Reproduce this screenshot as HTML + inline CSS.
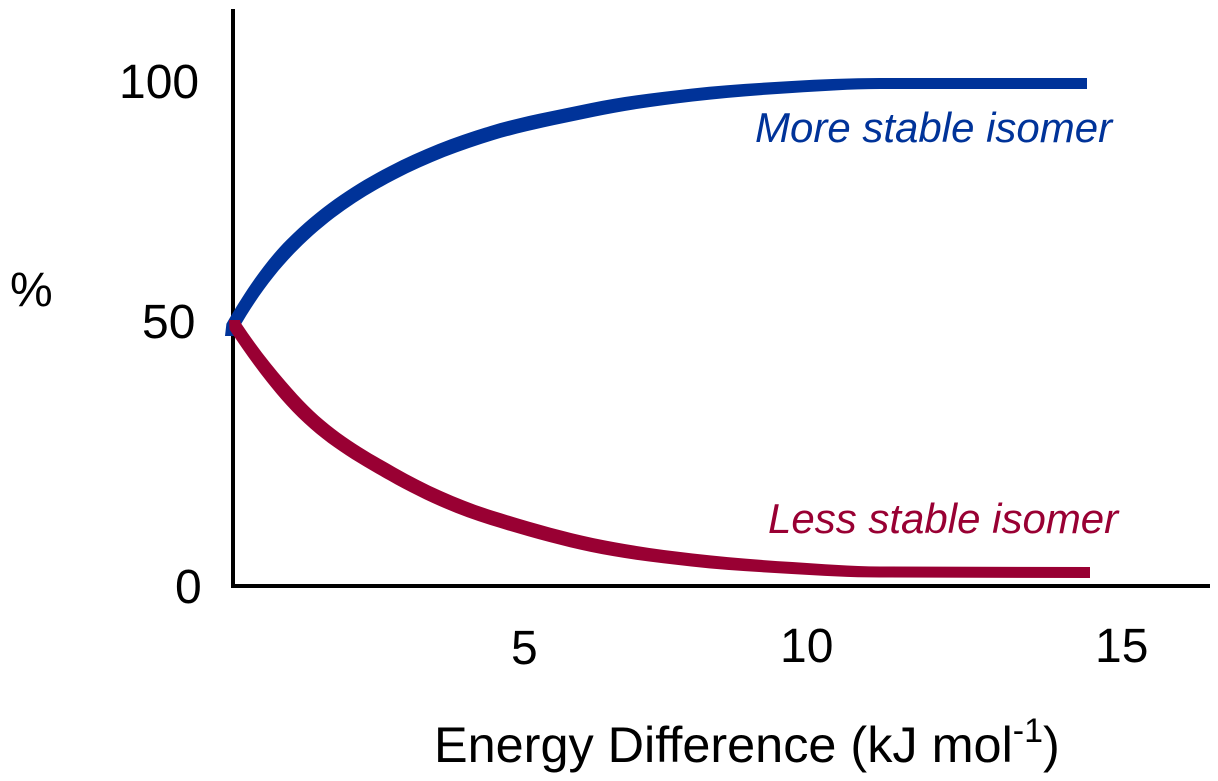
<!DOCTYPE html>
<html>
<head>
<meta charset="utf-8">
<style>
html,body{margin:0;padding:0;background:#fff;}
svg{display:block;}
text{font-family:"Liberation Sans",sans-serif;}
</style>
</head>
<body>
<svg width="1218" height="781" viewBox="0 0 1218 781" xmlns="http://www.w3.org/2000/svg">
<rect width="1218" height="781" fill="#fff"/>
<path d="M233 9V588M231 586H1210" fill="none" stroke="#000" stroke-width="4"/>
<path fill="#003399" d="M225 336L226.400 323.800C246.600 288.500 266.700 260.100 286.900 239.900C320.800 206 354.800 184.200 388.700 166.600C422.400 149.100 456.200 136.200 489.900 126.100C523.500 116 557 110.200 590.600 103.100C624.200 96 657.700 92.500 691.300 88.600C724.700 84.800 758.200 83 791.600 81C821.100 79.200 850.500 78 880 78L1087 78L1087 89L880 89C850.800 89 821.600 91.200 792.400 93C759.200 95 726 97.700 692.800 101.500C659.700 105.300 626.500 110 593.400 116.900C560.300 123.900 527.200 130 494.100 139.900C461.200 149.800 428.200 162.300 395.300 179.400C362.600 196.400 329.800 217.400 297.100 250.100C277.300 269.900 257.400 295.600 237.600 330.200L236 336Z"/>
<path fill="#990033" d="M229 320L240 320L240.400 322.400C259.400 350.900 278.400 374.200 297.400 395.100C330.100 431.100 362.900 449.100 395.600 467.700C428.400 486.400 461.300 500.900 494.100 511.100C527.200 521.400 560.300 531.100 593.400 538.100C626.500 545.100 659.700 549.700 692.800 553.500C726 557.300 759.200 560 792.400 562C821.600 563.800 850.800 566.500 880 566.500L1090 567L1090 578L880 577.500C850.500 577.500 821.100 575.800 791.600 574C758.200 572 724.700 570.300 691.300 566.500C657.700 562.600 624.200 559 590.600 551.900C557 544.800 523.500 535.300 489.900 524.900C456.100 514.400 422.200 499.600 388.400 480.300C354.500 460.900 320.500 442.200 286.600 404.900C267.600 384 248.600 358.100 229.600 329.600Z"/>
<text x="119" y="98" font-size="48">100</text>
<text x="142" y="338" font-size="48">50</text>
<text x="175" y="603" font-size="48">0</text>
<text x="10" y="306" font-size="48">%</text>
<text x="511" y="664" font-size="48">5</text>
<text x="780" y="662" font-size="48">10</text>
<text x="1095" y="662" font-size="48">15</text>
<text x="434" y="762" font-size="50.400">Energy Difference (kJ mol<tspan font-size="34" dy="-20">-1</tspan><tspan dy="20">)</tspan></text>
<text x="755" y="142" font-size="42" font-style="italic" fill="#003399">More stable isomer</text>
<text x="768" y="533" font-size="42" font-style="italic" fill="#990033">Less stable isomer</text>
</svg>
</body>
</html>
